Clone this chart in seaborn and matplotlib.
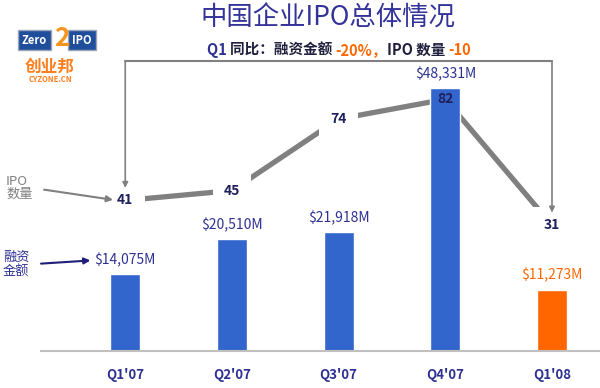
import matplotlib
matplotlib.use("Agg")
import matplotlib.pyplot as plt
import matplotlib.transforms as mtransforms
import numpy as np
import pandas as pd
import seaborn as sns

quarters = ["Q1'07", "Q2'07", "Q3'07", "Q4'07", "Q1'08"]
amounts = [14075, 20510, 21918, 48331, 11273]          # 融资金额, $M
ipo_counts = [41, 45, 74, 82, 31]                      # IPO 数量
bar_colors = ["#3366CC", "#3366CC", "#3366CC", "#3366CC", "#FF6600"]

title = "中国企业IPO总体情况"
subtitle_parts = [
    ("Q1 ", "#2E3192"),
    ("同比：融资金额 ", "#1F1F3D"),
    ("-20%，", "#FF6600"),
    ("IPO 数量 ", "#1F1F3D"),
    ("-10", "#FF6600"),
]

NAVY = "#2E3192"
GRAY = "#808080"
ORANGE = "#FF6600"

sns.set_theme(style="white")
plt.rcParams["font.family"] = ["Noto Sans CJK SC", "DejaVu Sans"]

fig = plt.figure(figsize=(6, 3.88), dpi=100)
ax = fig.add_axes([41 / 600, 37 / 388, 559 / 600, 290 / 388])
ax_line = ax.twinx()
ax_line.set_zorder(ax.get_zorder() - 1)
ax.patch.set_visible(False)

df = pd.DataFrame({"quarter": quarters, "amount": amounts, "ipo": ipo_counts})

# bars: amount raised
sns.barplot(data=df, x="quarter", y="amount", hue="quarter", palette=bar_colors,
            saturation=1, width=0.28, legend=False, ax=ax)
ax.set_ylim(0, 53300)
ax.set_xlim(-0.79, 4.45)

# line: number of IPOs (own scale)
sns.lineplot(x=np.arange(len(quarters)), y=df["ipo"], ax=ax_line, color=GRAY,
             lw=3.8, solid_capstyle="butt")
ax_line.set_ylim(-20, 97.5)
ax_line.set_axis_off()

for s in ["left", "right", "top"]:
    ax.spines[s].set_visible(False)
ax.spines["bottom"].set_color("#C0C0C0")
ax.spines["bottom"].set_linewidth(1.5)
ax.set_yticks([])
ax.set_xlabel("")
ax.set_ylabel("")
ax.set_xticks(range(len(quarters)), quarters)
ax.tick_params(axis="x", length=0, pad=12, labelsize=9.5, labelcolor=NAVY)
for lbl in ax.get_xticklabels():
    lbl.set_fontweight("bold")

# amount labels
amount_labels = []
for i, v in enumerate(amounts):
    color = ORANGE if i == len(amounts) - 1 else NAVY
    t = ax.annotate(f"${v:,}M", (i, v), xytext=(0, 5), textcoords="offset points",
                    ha="center", va="bottom", fontsize=10, color=color)
    amount_labels.append(t)

# count labels, white box cuts the line around them
count_labels = []
for i, c in enumerate(ipo_counts):
    box = None if i == 3 else dict(boxstyle="square,pad=0.8", fc="white", ec="none")
    t = ax.text(i, c, str(c), transform=ax_line.transData, ha="center", va="center",
                fontsize=10, fontweight="bold", color="#1F1F5C", bbox=box, zorder=3)
    count_labels.append(t)

# bracket linking Q1'07 and Q1'08 IPO counts
top = mtransforms.blended_transform_factory(ax.transData, ax.transAxes)
ax.plot([0, 4], [1, 1], transform=top, color=GRAY, lw=1.5, clip_on=False, zorder=4)
for i in [0, 4]:
    ax.annotate("", xy=(i, ipo_counts[i]), xycoords=ax_line.transData,
                xytext=(i, 1), textcoords=top,
                arrowprops=dict(arrowstyle="-|>", color=GRAY, lw=1.2, shrinkA=0,
                                shrinkB=9, mutation_scale=8), zorder=4)

# side notes
ax.annotate("IPO\n数量", xy=(0, 0.5), xycoords=count_labels[0],
            xytext=(-80, 9), textcoords="offset points", ha="left", va="center",
            fontsize=9.5, color=GRAY, linespacing=1.0,
            arrowprops=dict(arrowstyle="-|>", color=GRAY, lw=1.5, shrinkA=6,
                            shrinkB=3, mutation_scale=9, relpos=(1, 0.5)))
ax.annotate("融资\n金额", xy=(0, 0.5), xycoords=amount_labels[0],
            xytext=(-66, -3), textcoords="offset points", ha="left", va="center",
            fontsize=9.5, color=NAVY, linespacing=1.0,
            arrowprops=dict(arrowstyle="-|>", color="#1F1F7A", lw=1.5, shrinkA=6,
                            shrinkB=3, mutation_scale=9, relpos=(1, 0.5)))

# titles
fig.text(0.547, 1 - 18 / 388, title, ha="center", va="center", fontsize=19, color="#333399")

renderer = fig.canvas.get_renderer()
sub_texts = []
for s, color in subtitle_parts:
    t = fig.text(0, 1 - 50 / 388, s, ha="left", va="center", fontsize=10.5,
                 fontweight="bold", color=color)
    sub_texts.append(t)
widths = [t.get_window_extent(renderer).width / fig.bbox.width for t in sub_texts]
x = 0.565 - sum(widths) / 2
for t, w in zip(sub_texts, widths):
    t.set_x(x)
    x += w

# logos
fig.text(22 / 600, 1 - 40 / 388, "Zero", ha="left", va="center", fontsize=8,
         fontweight="bold", color="white",
         bbox=dict(boxstyle="square,pad=0.35", fc="#1F4E9C", ec="#9AA6B8", lw=1))
fig.text(72 / 600, 1 - 40 / 388, "IPO", ha="left", va="center", fontsize=8,
         fontweight="bold", color="white",
         bbox=dict(boxstyle="square,pad=0.35", fc="#1F4E9C", ec="#9AA6B8", lw=1))
fig.text(62 / 600, 1 - 38 / 388, "2", ha="center", va="center", fontsize=19,
         fontweight="bold", style="italic", color="#F7941D")
fig.text(50 / 600, 1 - 67 / 388, "创业邦", ha="center", va="center", fontsize=12,
         fontweight="bold", color="#FF7F1E")
fig.text(50 / 600, 1 - 80 / 388, "CYZONE.CN", ha="center", va="center", fontsize=5.5,
         fontweight="bold", color="#FF7F1E")

fig.savefig("out.png", dpi=100)
plt.close(fig)
